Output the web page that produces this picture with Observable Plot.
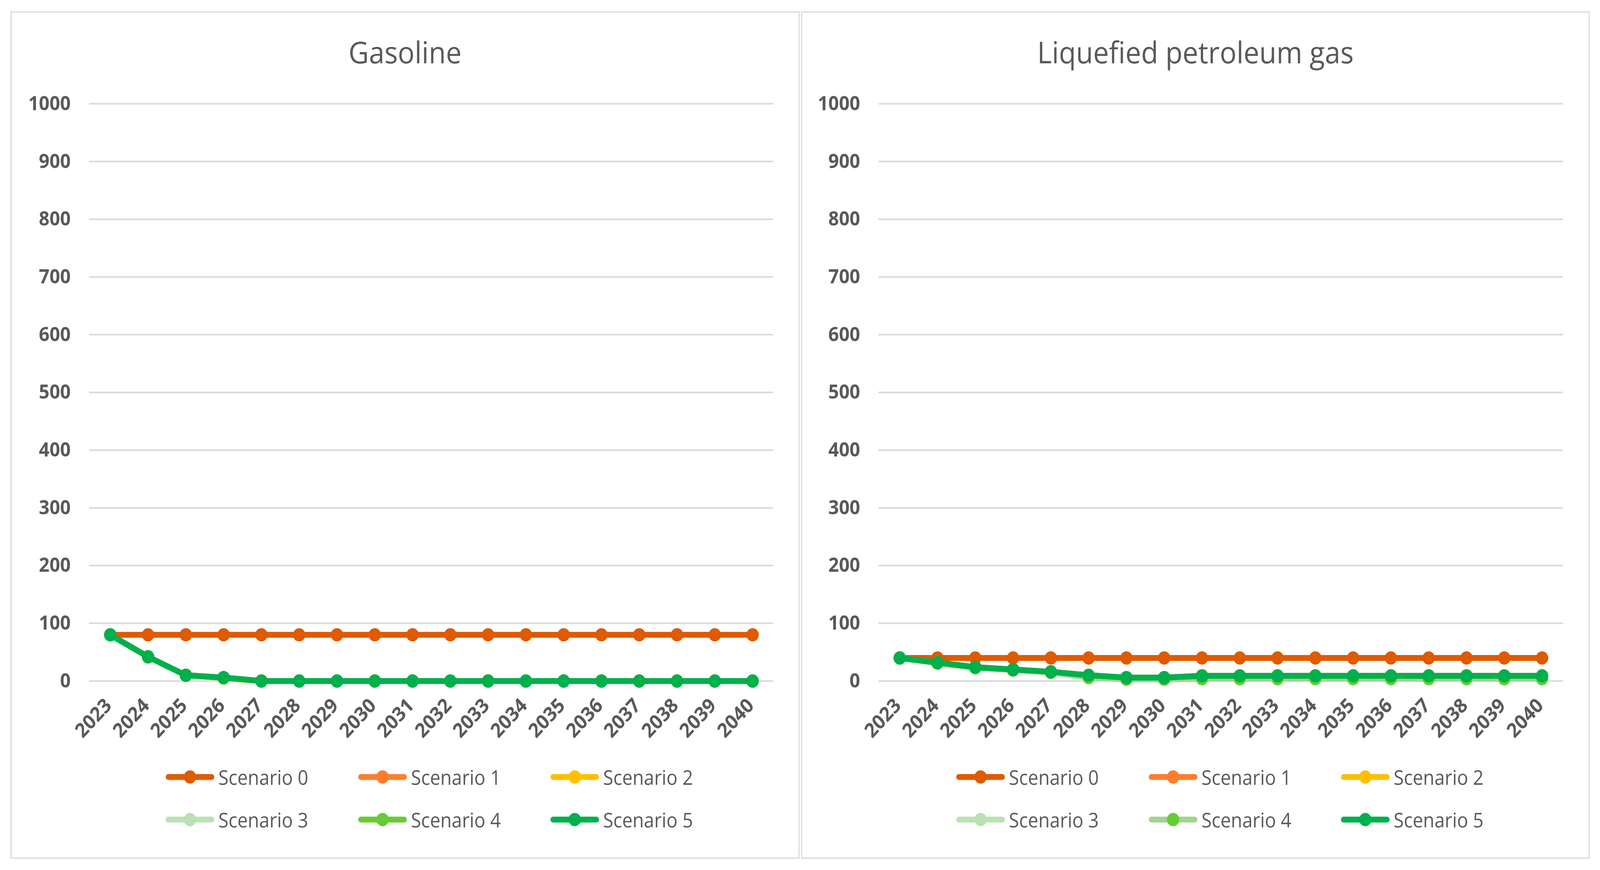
<!DOCTYPE html>
<html>
<head>
<meta charset="utf-8">
<script src="https://cdn.jsdelivr.net/npm/d3@7"></script>
<script src="https://cdn.jsdelivr.net/npm/@observablehq/plot@0.6"></script>
<style>
  html, body { margin: 0; padding: 0; background: #fff; overflow: hidden; }
  #root { width: 4404px; height: 2226px; position: absolute; left: 0; top: 0; transform-origin: 0 0; font-family: "Open Sans", sans-serif; }
  .panel { position: absolute; border: 3px solid #D9D9D9; box-sizing: border-box; background: #fff; }
  .title { position: absolute; text-align: center; color: #595959; font-size: 77px; line-height: 1; font-weight: 400; white-space: nowrap; }
  .chart { position: absolute; }
  .legItem { position: absolute; display: flex; align-items: center; height: 44px; }
  .legItem span { color: #595959; font-size: 51px; line-height: 1; margin-left: 11px; white-space: nowrap; }
</style>
</head>
<body>
<div id="root"></div>
<script>
// ---------- data ----------
const years = [2023, 2024, 2025, 2026, 2027, 2028, 2029, 2030, 2031, 2032, 2033, 2034, 2035, 2036, 2037, 2038, 2039, 2040];
const scenarios = ["Scenario 0", "Scenario 1", "Scenario 2", "Scenario 3", "Scenario 4", "Scenario 5"];
const yTicks = [0, 100, 200, 300, 400, 500, 600, 700, 800, 900, 1000];
const panelTitles = ["Gasoline", "Liquefied petroleum gas"];

// Gasoline
const gasolineS0 = [80, 80, 80, 80, 80, 80, 80, 80, 80, 80, 80, 80, 80, 80, 80, 80, 80, 80];
const gasolineS1 = [80, 42, 10, 6, 0, 0, 0, 0, 0, 0, 0, 0, 0, 0, 0, 0, 0, 0];
const gasolineS2 = [80, 42, 10, 5, 0, 0, 0, 0, 0, 0, 0, 0, 0, 0, 0, 0, 0, 0];
const gasolineS3 = [80, 42, 10, 6, 0, 0, 0, 0, 0, 0, 0, 0, 0, 0, 0, 0, 0, 0];
const gasolineS4 = [80, 42, 10, 6, 0, 0, 0, 0, 0, 0, 0, 0, 0, 0, 0, 0, 0, 0];
const gasolineS5 = [80, 42, 10, 6, 0, 0, 0, 0, 0, 0, 0, 0, 0, 0, 0, 0, 0, 0];

// Liquefied petroleum gas
const lpgS0 = [40, 40, 40, 40, 40, 40, 40, 40, 40, 40, 40, 40, 40, 40, 40, 40, 40, 40];
const lpgS1 = [40, 32, 24, 20, 16, 10, 6, 6, 9, 9, 9, 9, 9, 9, 9, 9, 9, 9];
const lpgS2 = [40, 31, 23, 19, 15, 8, 5, 5, 8, 8, 8, 8, 8, 8, 8, 8, 8, 8];
const lpgS3 = [40, 31, 23, 19, 15, 6, 3, 3, 4, 4, 4, 4, 4, 4, 4, 4, 4, 4];
const lpgS4 = [40, 31, 23, 19, 15, 6, 3, 3, 4, 4, 4, 4, 4, 4, 4, 4, 4, 4];
const lpgS5 = [40, 32, 24, 20, 16, 10, 6, 6, 9, 9, 9, 9, 9, 9, 9, 9, 9, 9];

// colours
const gasolineLineColors = ["#E05A00", "#FF7C2B", "#FFC000", "#B9E1B4", "#66CC33", "#00B04C"];
const gasolineDotColors  = ["#E05A00", "#FF7C2B", "#FFC000", "#B9E1B4", "#66CC33", "#00B04C"];
const lpgLineColors = ["#E05A00", "#FF7C2B", "#FFC000", "#B9E1B4", "#A3D58F", "#00B04C"];
const lpgDotColors  = ["#E05A00", "#FF7C2B", "#FFC000", "#B9E1B4", "#66CC33", "#00B04C"];

// ---------- layout ----------
const root = document.getElementById("root");
const panels = [
  {left: 29, width: 2172, title: panelTitles[0], series: [gasolineS0, gasolineS1, gasolineS2, gasolineS3, gasolineS4, gasolineS5], lineColors: gasolineLineColors, dotColors: gasolineDotColors, mL: 216, mR: 73},
  {left: 2205, width: 2171, title: panelTitles[1], series: [lpgS0, lpgS1, lpgS2, lpgS3, lpgS4, lpgS5], lineColors: lpgLineColors, dotColors: lpgDotColors, mL: 213, mR: 74}
];
const panelTop = 29, panelHeight = 2168;
const svgTop = 180, svgHeight = 1760, mT = 85, mB = 198;

panels.forEach(p => {
  const box = document.createElement("div");
  box.className = "panel";
  Object.assign(box.style, {left: p.left + "px", top: panelTop + "px", width: p.width + "px", height: panelHeight + "px"});
  root.appendChild(box);

  const t = document.createElement("div");
  t.className = "title";
  t.textContent = p.title;
  Object.assign(t.style, {left: p.left + "px", width: p.width + "px", top: "94px"});
  root.appendChild(t);

  const rows = [];
  p.series.forEach((vals, si) => vals.forEach((v, i) => rows.push({year: years[i], value: v, s: si})));

  const marks = [
    Plot.gridY(yTicks, {stroke: "#D9D9D9", strokeOpacity: 1, strokeWidth: 4}),
    Plot.axisY({ticks: yTicks, tickSize: 0, tickPadding: 51, fontSize: 51, fontWeight: "bold", label: null, tickFormat: d => String(d)}),
    Plot.axisX({tickRotate: -45, tickSize: 0, tickPadding: 54, dx: -5, fontSize: 51, fontWeight: "bold", label: null, tickFormat: d => String(d)})
  ];
  scenarios.forEach((name, si) => {
    const d = rows.filter(r => r.s === si);
    marks.push(Plot.line(d, {x: "year", y: "value", stroke: p.lineColors[si], strokeWidth: 15, strokeLinejoin: "round", strokeLinecap: "round"}));
    marks.push(Plot.dot(d, {x: "year", y: "value", r: 17, fill: p.dotColors[si], stroke: null}));
  });

  const chart = Plot.plot({
    width: p.width,
    height: svgHeight,
    marginLeft: p.mL, marginRight: p.mR, marginTop: mT, marginBottom: mB,
    x: {type: "point", domain: years, padding: 0.5, align: 0.5},
    y: {domain: [0, 1000]},
    style: {background: "transparent", color: "#595959", fontFamily: "Open Sans", maxWidth: "none", overflow: "visible"},
    marks
  });
  const wrap = document.createElement("div");
  wrap.className = "chart";
  Object.assign(wrap.style, {left: p.left + "px", top: svgTop + "px"});
  wrap.appendChild(chart);
  root.appendChild(wrap);

  // legend
  const colX = [427, 957, 1486];
  const rowY = [1988, 2097];
  scenarios.forEach((name, si) => {
    const item = document.createElement("div");
    item.className = "legItem";
    Object.assign(item.style, {left: (p.left + colX[si % 3]) + "px", top: (rowY[Math.floor(si / 3)] - 22) + "px"});
    const ns = "http://www.w3.org/2000/svg";
    const sw = document.createElementNS(ns, "svg");
    sw.setAttribute("width", 134); sw.setAttribute("height", 44);
    const ln = document.createElementNS(ns, "line");
    ln.setAttribute("x1", 7.5); ln.setAttribute("x2", 126.5); ln.setAttribute("y1", 22); ln.setAttribute("y2", 22);
    ln.setAttribute("stroke", p.lineColors[si]); ln.setAttribute("stroke-width", 15); ln.setAttribute("stroke-linecap", "round");
    const c = document.createElementNS(ns, "circle");
    c.setAttribute("cx", 67); c.setAttribute("cy", 22); c.setAttribute("r", 17); c.setAttribute("fill", p.dotColors[si]);
    sw.appendChild(ln); sw.appendChild(c);
    const sp = document.createElement("span");
    sp.textContent = name;
    item.appendChild(sw); item.appendChild(sp);
    root.appendChild(item);
  });
});

// fit the 4404x2226 layout into whatever viewport the browser provides
function fit() {
  const sx = document.documentElement.clientWidth / 4404;
  const sy = document.documentElement.clientHeight / 2226;
  root.style.transform = (Math.abs(sx - 1) < 0.001 && Math.abs(sy - 1) < 0.001) ? "none" : "scale(" + sx + "," + sy + ")";
}
fit();
window.addEventListener("resize", fit);
</script>
</body>
</html>
